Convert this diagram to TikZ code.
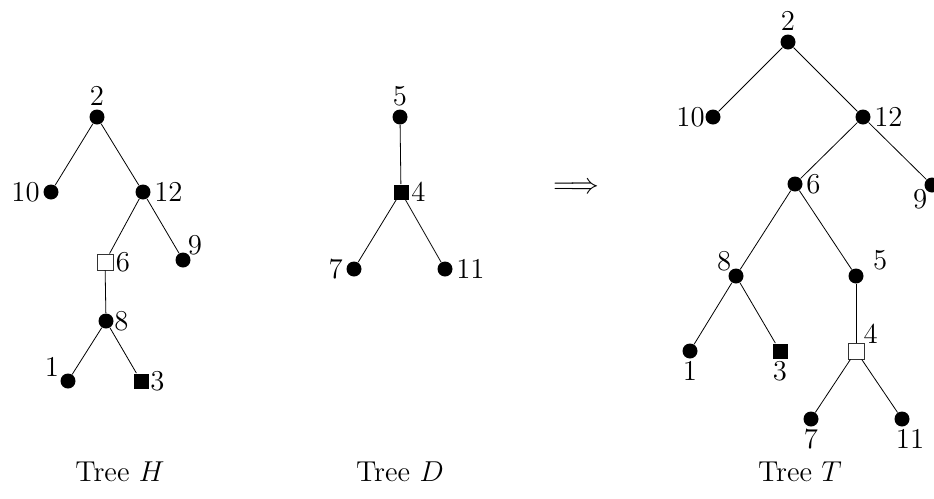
\documentclass[tikz,border=0pt]{standalone}
\usepackage{amsmath}
\usepackage{tikz}
\usetikzlibrary{positioning}

\begin{document}
\begin{tikzpicture}[
  x=0.5pt, y=-0.5pt,
  font=\Large,
  vdot/.style={circle, fill=black, inner sep=0pt, minimum size=7.5pt},
  vsq/.style={rectangle, draw=black!80, fill=white, inner sep=0pt, minimum size=8pt},
  vfsq/.style={rectangle, fill=black, inner sep=0pt, minimum size=7.5pt},
  every label/.style={inner sep=1.5pt, font=\Large},
]
  \useasboundingbox (0,0) rectangle (934,499);

  % Tree H
  \node[vdot, label=above:2] (h2) at (97,117) {};
  \node[vdot, label=left:10] (h10) at (51,192) {};
  \node[vdot, label=right:12] (h12) at (143,192) {};
  \node[vdot, label={[label distance=-3pt]35:9}] (h9) at (183,260) {};
  \node[vsq, label={[inner sep=1pt]right:6}] (h6) at (105,262) {};
  \node[vdot, label={[inner sep=0pt]right:8}] (h8) at (106,321) {};
  \node[vdot, label={[label distance=-1pt]165:1}] (h1) at (68,381) {};
  \node[vfsq, label={[inner sep=0.5pt]right:3}] (h3) at (141,381) {};
  \draw (h2) -- (h10);
  \draw (h2) -- (h12);
  \draw (h12) -- (h6);
  \draw (h12) -- (h9);
  \draw (h6) -- (h8);
  \draw (h8) -- (h1);
  \draw (h8) -- (h3);

  % Tree D
  \node[vdot, label=above:5] (d5) at (400,117) {};
  \node[vfsq, label={[inner sep=1pt]right:4}] (d4) at (401,192) {};
  \node[vdot, label=left:7] (d7) at (354,269) {};
  \node[vdot, label=right:11] (d11) at (445,269) {};
  \draw (d5) -- (d4);
  \draw (d4) -- (d7);
  \draw (d4) -- (d11);

  \node (arr) at (576,188) {$\Longrightarrow$};

  % Tree T
  \node[vdot, label=above:2] (t2) at (788,42) {};
  \node[vdot, label={[inner sep=0pt]left:10}] (t10) at (713,117) {};
  \node[vdot, label=right:12] (t12) at (863,117) {};
  \node[vdot, label=right:6] (t6) at (795,184) {};
  \node[vdot, label={[label distance=-3pt]225:9}] (t9) at (932,185) {};
  \node[vdot, label={[label distance=-3pt]135:8}] (t8) at (736,276) {};
  \node[vdot, label={[label distance=3pt]10:5}] (t5) at (856,276) {};
  \node[vdot, label={[inner sep=1pt]below:1}] (t1) at (690,351) {};
  \node[vfsq, label={[inner sep=1pt]below:3}] (t3) at (780,351) {};
  \node[vsq, label={[label distance=-3pt]45:4}] (t4) at (856,351) {};
  \node[vdot, label={[inner sep=1pt]below:7}] (t7) at (811,419) {};
  \node[vdot, label={[inner sep=1pt, xshift=4pt]below:11}] (t11) at (902,419) {};
  \draw (t2) -- (t10);
  \draw (t2) -- (t12);
  \draw (t12) -- (t6);
  \draw (t12) -- (t9);
  \draw (t6) -- (t8);
  \draw (t6) -- (t5);
  \draw (t8) -- (t1);
  \draw (t8) -- (t3);
  \draw (t5) -- (t4);
  \draw (t4) -- (t7);
  \draw (t4) -- (t11);

  % Captions
  \node (capH) at (120,472) {Tree $H$};
  \node (capD) at (400,472) {Tree $D$};
  \node (capT) at (800,472) {Tree $T$};
\end{tikzpicture}
\end{document}
